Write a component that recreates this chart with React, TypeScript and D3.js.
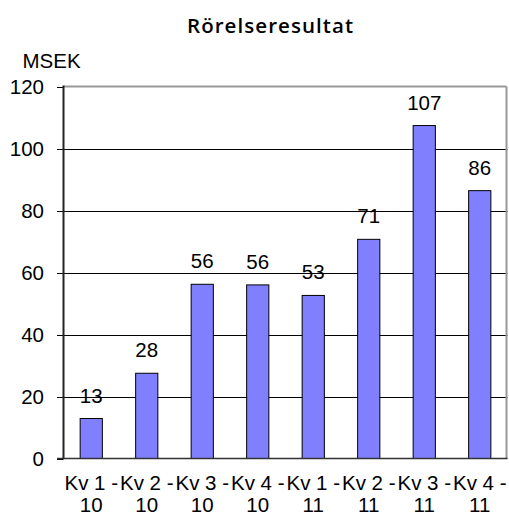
import React from "react";
import * as d3 from "d3";

const categories = ["Kv 1 - 10", "Kv 2 - 10", "Kv 3 - 10", "Kv 4 - 10", "Kv 1 - 11", "Kv 2 - 11", "Kv 3 - 11", "Kv 4 - 11"];
const lines1 = ["Kv 1 -", "Kv 2 -", "Kv 3 -", "Kv 4 -", "Kv 1 -", "Kv 2 -", "Kv 3 -", "Kv 4 -"];
const lines2 = ["10", "10", "10", "10", "11", "11", "11", "11"];
const values = [12.9, 27.5, 56.2, 56.0, 52.6, 70.7, 107.4, 86.4];
const yTicks = [0, 20, 40, 60, 80, 100, 120];

const W = 509;
const H = 515;
const M = { left: 63.5, right: 507.5, top: 86.5, bottom: 458.5 };

export default function App() {
  const x = d3.scaleBand<string>().domain(categories).range([M.left, M.right]).paddingInner(0.6).paddingOuter(0.3);
  const y = d3.scaleLinear().domain([0, 120]).range([M.bottom, M.top]);
  const font = "'Liberation Sans', Arial, sans-serif";
  const fs = 20.5;
  return (
    <svg width={W} height={H} style={{ position: "absolute", left: 0, top: 0 }}>
      <rect x={0} y={0} width={W} height={H} fill="#fff" />
      <text x={270} y={33} textAnchor="middle" fontFamily="'Open Sans', sans-serif" fontWeight={600} fontSize={20.5} textLength={166} lengthAdjust="spacing" fill="#000">Rörelseresultat</text>
      <text x={22.5} y={67.5} fontFamily={font} fontSize={fs} fill="#000">MSEK</text>
      {yTicks.map((t) => (
        <g key={t}>
          {t > 0 && t < 120 && <line x1={M.left} x2={M.right} y1={Math.round(y(t)) + 0.5} y2={Math.round(y(t)) + 0.5} stroke="#000" strokeWidth={1} />}
          <line x1={57} x2={M.left} y1={Math.round(y(t)) + 0.5} y2={Math.round(y(t)) + 0.5} stroke="#000" strokeWidth={1} />
          <text x={44} y={y(t)} textAnchor="end" dominantBaseline="central" fontFamily={font} fontSize={fs} fill="#000">{t}</text>
        </g>
      ))}
      <line x1={M.left} x2={M.right - 1} y1={M.top} y2={M.top} stroke="#999" strokeWidth={2} />
      <line x1={M.right - 1} x2={M.right - 1} y1={M.top} y2={M.bottom} stroke="#999" strokeWidth={2} />
      {values.map((v, i) => {
        const c = categories[i];
        const bx = x(c)!;
        return (
          <g key={c}>
            <rect x={bx} y={y(v)} width={x.bandwidth()} height={y(0) - y(v)} fill="#8080FF" stroke="#000" strokeWidth={1} />
            <text x={bx + x.bandwidth() / 2} y={y(v) - 16} textAnchor="middle" fontFamily={font} fontSize={fs} fill="#000">{Math.round(v)}</text>
            <text x={bx + x.bandwidth() / 2} y={490} textAnchor="middle" fontFamily={font} fontSize={fs} fill="#000">{lines1[i]}</text>
            <text x={bx + x.bandwidth() / 2} y={512} textAnchor="middle" fontFamily={font} fontSize={fs} fill="#000">{lines2[i]}</text>
          </g>
        );
      })}
      <line x1={57} x2={M.right} y1={M.bottom} y2={M.bottom} stroke="#333" strokeWidth={1.5} />
      <line x1={M.left} x2={M.left} y1={M.top - 1} y2={M.bottom} stroke="#222" strokeWidth={2} />
    </svg>
  );
}
